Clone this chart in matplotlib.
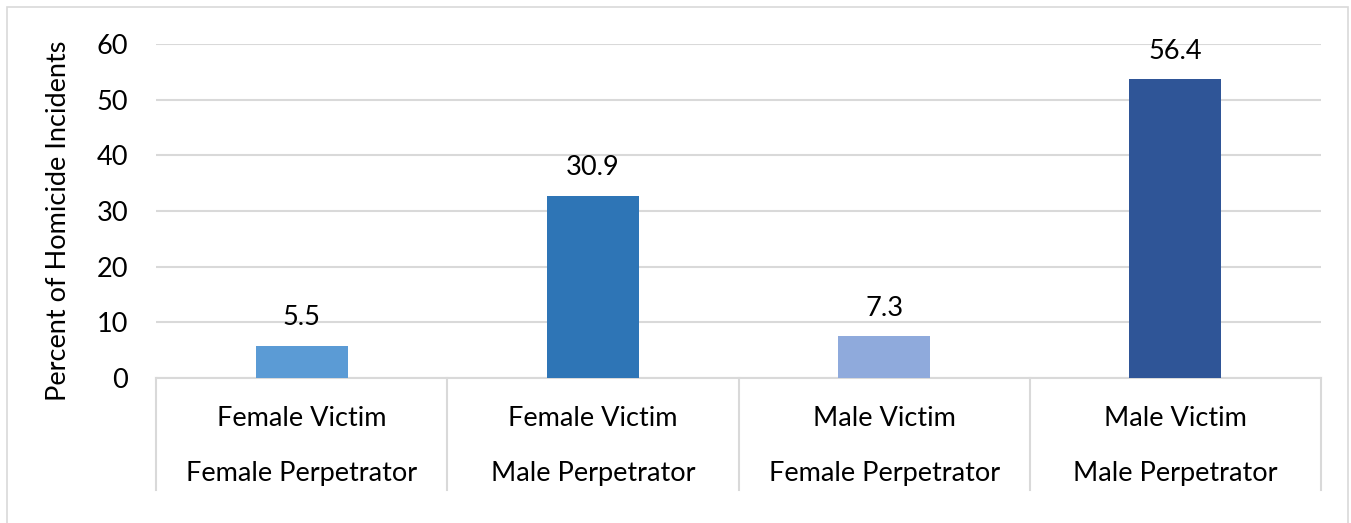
import matplotlib
matplotlib.use('Agg')
import matplotlib.pyplot as plt
from matplotlib.patches import Rectangle
from matplotlib import transforms

# data
victims = ["Female Victim", "Female Victim", "Male Victim", "Male Victim"]
perpetrators = ["Female Perpetrator", "Male Perpetrator", "Female Perpetrator", "Male Perpetrator"]
bar_heights = [5.8, 32.7, 7.5, 53.7]      # drawn heights as they appear
value_labels = ["5.5", "30.9", "7.3", "56.4"]  # printed labels
bar_colors = ["#5B9BD5", "#2E75B6", "#8FAADC", "#2F5597"]
yticks = [0, 10, 20, 30, 40, 50, 60]

plt.rcParams['font.family'] = ['Lato', 'DejaVu Sans']
FS = 19.5

W, H = 1351, 523
fig = plt.figure(figsize=(W / 100, H / 100), dpi=100)

# chart border (bottom edge falls outside the picture)
fig.patches.append(Rectangle((7 / W, -0.1), (1348 - 7) / W, 1.1 - 7 / H,
                             transform=fig.transFigure, fill=False,
                             edgecolor="#D9D9D9", linewidth=1.2))

left, right, top, bottom = 156, 1321, 44, 378
ax = fig.add_axes([left / W, 1 - bottom / H, (right - left) / W, (bottom - top) / H])

x = list(range(len(bar_heights)))
ax.bar(x, bar_heights, width=0.316, color=bar_colors, zorder=3)

for i, (h, lab) in enumerate(zip(bar_heights, value_labels)):
    ax.annotate(lab, (i, h), xytext=(0, 28), textcoords="offset pixels",
                ha="center", va="center", fontsize=FS, color="black")

ax.set_xlim(-0.5, 3.5)
ax.set_ylim(0, 60)
ax.set_yticks(yticks)
ax.set_xticks([])
ax.tick_params(axis="y", length=0, pad=20, labelsize=FS, labelcolor="black")
for s in ax.spines.values():
    s.set_visible(False)
ax.grid(axis="y", color="#D9D9D9", linewidth=1.5, zorder=0)

# category boxes below the axis
trans = transforms.blended_transform_factory(ax.transData, ax.transAxes)
box_bottom = -(490 - bottom) / (bottom - top)
for xs in [-0.5, 0.5, 1.5, 2.5, 3.5]:
    ax.plot([xs, xs], [0, box_bottom], transform=trans, color="#D9D9D9",
            linewidth=1.5, clip_on=False)
ax.plot([-0.5, 3.5], [0, 0], color="#D9D9D9", linewidth=1.5, clip_on=False, zorder=2)

y1 = -(418 - bottom) / (bottom - top)
y2 = -(474 - bottom) / (bottom - top)
for i in x:
    ax.text(i, y1, victims[i], transform=trans, ha="center", va="center", fontsize=FS)
    ax.text(i, y2, perpetrators[i], transform=trans, ha="center", va="center", fontsize=FS)

fig.text(59 / W, 1 - 221 / H, "Percent of Homicide Incidents", rotation=90,
         ha="center", va="center", fontsize=FS)

fig.savefig("out.png", dpi=100)
